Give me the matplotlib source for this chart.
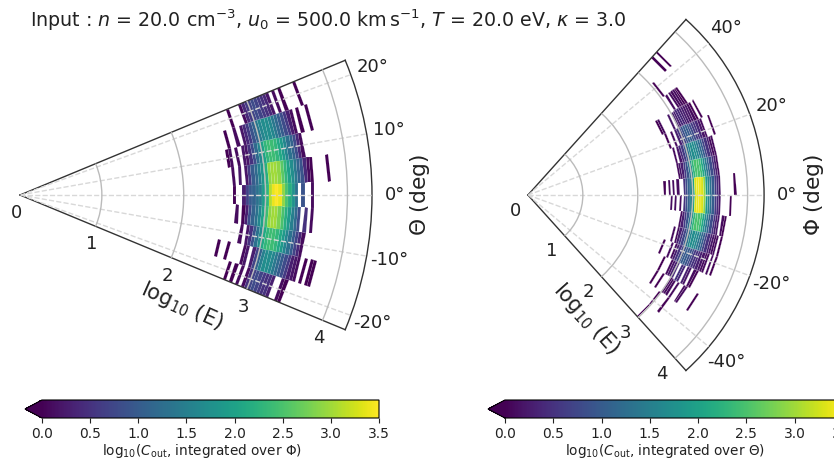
#!/usr/bin/env python3
import matplotlib
matplotlib.use('Agg')

import numpy as np
import matplotlib.pyplot as plt

_ = np.nan

W, H = 834, 463

# log10(E) bin edges, shared by both wedges
log_e_edges = np.round(np.arange(2.48, 3.81, 0.04), 2)

# ===================== left wedge: Theta rows, integrated over Phi =====================
theta_edges = [-22.5, -17.5, -12.5, -7.5, -2.5, 2.5, 7.5, 12.5, 17.5, 22.5]
theta_m20 = [_,_,_,_,_, 0,_,0,_,.1, _,.1,.5,.7,.8, .7,.6,.5,.5,.3, _,_,.1,0,_, _,_,_,_,_, _,_,_]
theta_m15 = [0,_,_,0,_, _,_,_,.1,.2, _,.3,.7,1.1,1.5, 1.7,1.7,1.6,1.4,1.2, 1.0,.8,.6,.3,.2, .1,_,0,_,0, 0,_,_]
theta_m10 = [_,_,_,_,_, _,.1,_,.2,.5, .9,1.3,1.7,2.1,2.3, 2.4,2.4,2.3,2.1,1.9, 1.6,1.3,1.0,.7,.4, .1,_,_,_,_, _,_,_]
theta_m05 = [_,_,_,_,.1, _,0,.3,.8,1.1, 1.3,1.6,2.0,2.4,2.9, 3.0,3.0,2.8,2.5,2.2, 1.9,1.5,1.2,.8,_, .5,_,.1,_,_, _,_,_]
theta_p00 = [_,_,_,0,_, _,.3,.7,1.0,1.1, 1.3,1.5,1.9,2.3,3.1, 3.4,3.5,3.4,2.9,2.5, 2.2,1.8,1.3,_,.9, _,_,.1,_,_, _,_,_]
theta_p05 = [_,_,_,.1,_, .2,_,.2,.6,1.0, 1.2,1.5,1.8,2.2,2.9, 3.0,3.0,2.9,2.6,2.3, 2.0,1.7,1.4,1.1,.9, .4,.1,0,_,_, _,_,0]
theta_p10 = [_,_,0,.1,_, .1,_,.2,.2,.5, .8,1.2,1.6,2.0,2.3, 2.4,2.4,2.3,2.1,1.9, 1.6,1.3,1.1,.8,.4, .1,_,_,_,_, _,_,_]
theta_p15 = [_,_,_,0,_, _,.1,_,.2,.4, .6,.9,1.1,1.4,1.6, 1.7,1.7,1.6,1.4,1.2, 1.0,.8,.6,.3,.1, _,0,_,_,0, _,_,_]
theta_p20 = [_,_,_,_,_, _,0,_,_,_, .1,.4,.6,.7,.8, .7,.6,.5,.4,.2, _,.1,_,0,_, _,_,_,0,_, _,_,_]

# ===================== right wedge: Phi rows, integrated over Theta =====================
phi_edges = [-48, -42, -36, -30, -24, -18, -12, -6, 0, 6, 12, 18, 24, 30, 36, 42, 48]
phi_m45 = [_,_,_,_,_, _,_,_,_,_, _,_,0,_,_, _,_,_,_,_, _,_,_,_,_, _,_,_,_,_, _,_,_]
phi_m39 = [_,_,_,_,_, _,_,_,_,_, _,_,0,_,_, _,_,0,_,_, _,_,_,_,_, _,_,_,_,_, _,_,_]
phi_m33 = [_,_,_,_,_, _,0,_,_,0, _,_,_,.1,.1, .1,_,.1,_,_, .1,.1,_,_,_, _,_,0,_,_, _,_,_]
phi_m27 = [_,_,_,_,_, _,0,_,_,_, .1,.2,.3,.4,_, .5,.4,_,.3,.2, _,.1,0,_,_, _,_,_,_,_, _,_,_]
phi_m21 = [_,_,_,0,_, _,_,.1,_,.1, .3,.5,.7,.9,1.0, 1.0,.9,.8,.6,.5, .4,.3,.2,.1,.1, _,.1,_,0,_, _,_,_]
phi_m15 = [_,_,_,_,_, _,.1,_,.1,.3, .5,.7,1.0,1.3,1.6, 1.7,1.7,1.6,1.4,1.2, 1.0,.7,.5,.3,.2, .1,.1,_,0,_, _,_,_]
phi_m09 = [_,_,_,_,_, _,_,_,.1,.3, .6,.9,1.3,1.8,2.3, 2.5,2.5,2.4,2.1,1.7, 1.4,1.1,.8,.5,.3, .2,_,.1,0,_, _,_,_]
phi_m03 = [_,_,_,.1,_, .1,_,.1,_,.5, .8,1.1,1.5,2.0,3.3, 3.4,3.4,3.3,2.9,1.9, 1.6,1.3,1.0,.6,.4, .2,_,_,_,_, 0,_,_]
phi_p03 = [0,_,.1,_,.1, _,.1,_,_,.5, .8,1.1,1.5,2.0,3.3, 3.4,3.4,3.3,2.9,1.9, 1.6,1.3,1.0,.6,.4, .2,_,_,_,_, _,_,0]
phi_p09 = [_,_,_,_,_, _,_,.1,.2,.3, .6,.9,1.3,1.8,2.3, 2.5,2.5,2.4,2.1,1.7, 1.4,1.1,.8,.5,.3, .1,_,_,_,_, _,_,_]
phi_p15 = [_,_,_,_,_, _,_,.1,_,.2, .4,.6,.9,1.3,1.6, 1.7,1.7,1.6,1.4,1.2, 1.0,.7,.5,.3,.1, .1,_,_,_,_, _,_,_]
phi_p21 = [_,_,_,_,_, _,0,_,_,.1, _,.3,.5,.7,.9, 1.0,1.0,.9,.8,.6, .5,.4,.2,.1,_, _,_,0,_,_, _,_,_]
phi_p27 = [_,_,_,_,_, 0,.1,_,_,_, _,.2,_,.3,.3, .4,.4,.3,.3,.2, .2,.1,0,_,0, _,_,_,_,_, _,_,_]
phi_p33 = [_,_,_,_,_, _,_,_,_,_, _,_,_,_,_, .1,_,.1,.1,.1, 0,0,_,_,_, _,_,_,_,_, _,_,_]
phi_p39 = [_,_,_,_,_, _,_,_,_,_, _,_,_,_,0, _,_,_,_,_, _,_,_,_,_, _,_,_,_,_, _,_,_]
phi_p45 = [_,_,_,_,_, _,_,_,_,_, _,_,_,_,_, _,_,_,_,_, _,_,0,_,_, 0,_,_,_,_, _,_,_]

# axis text
title_txt = (r'Input : $n$ = 20.0 cm$^{-3}$, $u_0$ = 500.0 km$\,$s$^{-1}$, '
             r'$T$ = 20.0 eV, $\kappa$ = 3.0')
theta_ticks = [-20, -10, 0, 10, 20]
phi_ticks = [-40, -20, 0, 20, 40]
r_ticks = [0, 1, 2, 3, 4]
cbar_ticks = [0.0, 0.5, 1.0, 1.5, 2.0, 2.5, 3.0, 3.5]


def box(x0, y0, x1, y1):
    # pixel box (y downward) -> figure fraction
    return [x0 / W, 1 - y1 / H, (x1 - x0) / W, (y1 - y0) / H]


def wedge(rect, edges, rows, lim, ticks, seam):
    ax = plt.gcf().add_axes(rect, projection='polar')
    vals = np.ma.masked_invalid(np.array(rows, dtype=float))
    pc = ax.pcolormesh(np.radians(edges), log_e_edges, vals.T, cmap='viridis',
                       vmin=0, vmax=3.5, antialiased=True, linewidth=seam,
                       edgecolors='white', zorder=1)
    ax.set_thetamin(-lim)
    ax.set_thetamax(lim)
    ax.set_rlim(0, 4.3)
    ax.set_rticks(r_ticks)
    ax.set_xticks(np.radians(ticks))
    ax.set_xticklabels([f'{t}°' for t in ticks])
    ax.tick_params(axis='x', labelsize=13, pad=6, colors='#222222')
    ax.tick_params(axis='y', labelsize=13, colors='#222222')
    ax.xaxis.grid(True, color='#d8d8d8', ls='--', lw=1)
    ax.yaxis.grid(True, color='#bbbbbb', ls='-', lw=1.0)
    ax.set_axisbelow(False)
    for sp in ax.spines.values():
        sp.set_color('#333333')
        sp.set_linewidth(1.0)
    return pc


def cbar(pc, rect, label):
    cax = plt.gcf().add_axes(rect)
    cb = plt.gcf().colorbar(pc, cax=cax, orientation='horizontal', extend='min',
                            extendfrac=0.05, ticks=cbar_ticks)
    cb.ax.tick_params(labelsize=10, length=3.5, pad=3, colors='#222222')
    cb.set_label(label, fontsize=9.8, labelpad=1, x=0.475, color='#222222')


fig = plt.figure(figsize=(W / 100, H / 100), dpi=100)

pc_l = wedge(box(20, 19, 372, 371), theta_edges,
             [theta_m20, theta_m15, theta_m10, theta_m05, theta_p00,
              theta_p05, theta_p10, theta_p15, theta_p20], 22.5, theta_ticks, 0.05)
pc_r = wedge(box(470.5, 19.5, 821.5, 370.5), phi_edges,
             [phi_m45, phi_m39, phi_m33, phi_m27, phi_m21, phi_m15, phi_m09, phi_m03,
              phi_p03, phi_p09, phi_p15, phi_p21, phi_p27, phi_p33, phi_p39, phi_p45],
             48, phi_ticks, 0.1)

cbar(pc_l, box(25, 400, 379, 418), r'log$_{10}$($C_{\mathrm{out}}$, integrated over $\Phi$)')
cbar(pc_r, box(488, 400, 843, 418), r'log$_{10}$($C_{\mathrm{out}}$, integrated over $\Theta$)')

fig.text(30 / W, 1 - 20 / H, title_txt, fontsize=13.7, ha='left', va='center', color='#222222')
fig.text(420 / W, 1 - 195 / H, r'$\Theta$ (deg)', fontsize=15.6, rotation=90,
         ha='center', va='center', color='#222222')
fig.text(814 / W, 1 - 195 / H, r'$\Phi$ (deg)', fontsize=15.6, rotation=90,
         ha='center', va='center', color='#222222')
fig.text(182 / W, 1 - 306 / H, r'log$_{10}$ (E)', fontsize=15, rotation=-24,
         ha='center', va='center', color='#222222')
fig.text(586 / W, 1 - 319 / H, r'log$_{10}$ (E)', fontsize=15, rotation=-48,
         ha='center', va='center', color='#222222')

fig.savefig('out.png', dpi=100, facecolor='white')
